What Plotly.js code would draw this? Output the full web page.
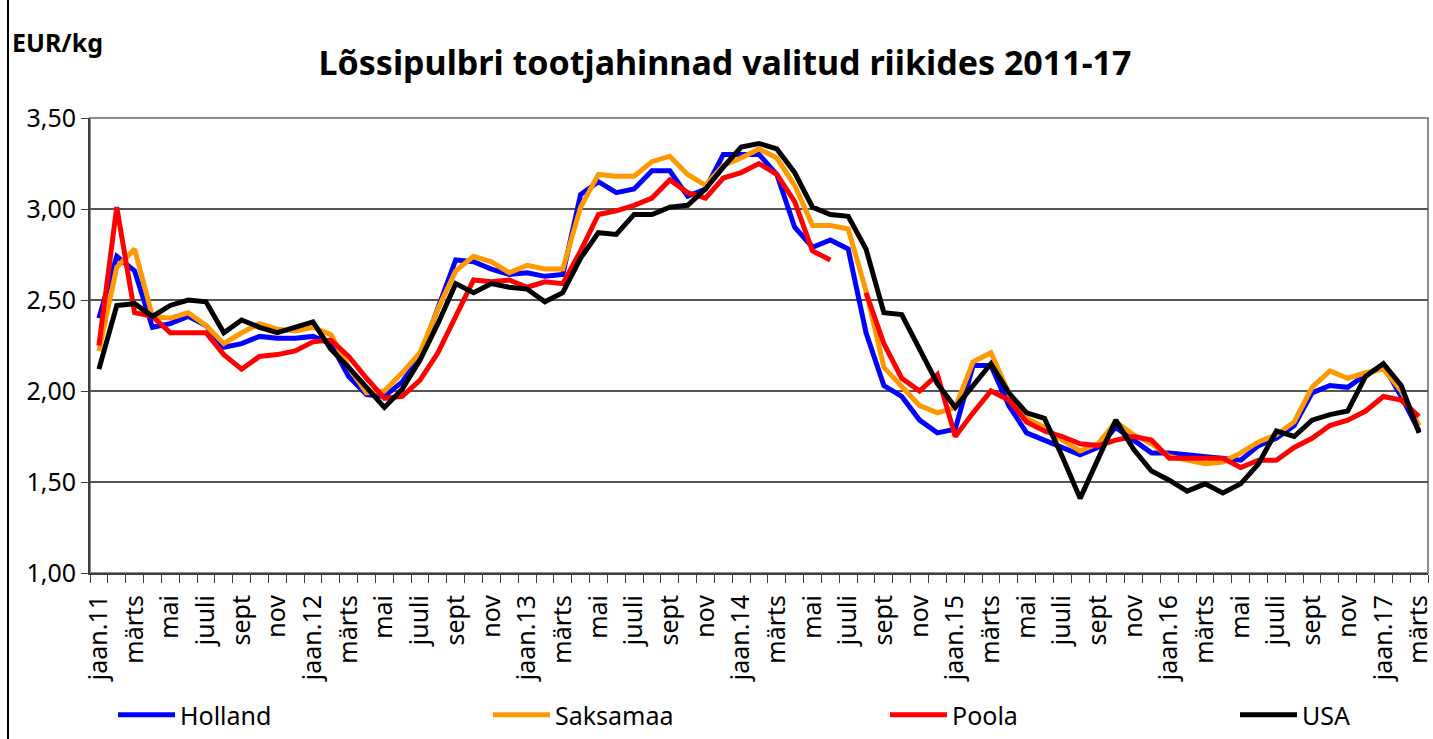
<!DOCTYPE html>
<html>
<head>
<meta charset="utf-8">
<script src="https://cdn.plot.ly/plotly-3.0.1.min.js"></script>
<style>
html,body{margin:0;padding:0;background:#fff;}
#chart{width:1433px;height:739px;}
</style>
</head>
<body>
<div id="chart"></div>
<script>
const categories = [
"jaan.11","veebr.11","märts.11","apr.11","mai.11","juuni.11","juuli.11","aug.11","sept.11","okt.11","nov.11","dets.11",
"jaan.12","veebr.12","märts.12","apr.12","mai.12","juuni.12","juuli.12","aug.12","sept.12","okt.12","nov.12","dets.12",
"jaan.13","veebr.13","märts.13","apr.13","mai.13","juuni.13","juuli.13","aug.13","sept.13","okt.13","nov.13","dets.13",
"jaan.14","veebr.14","märts.14","apr.14","mai.14","juuni.14","juuli.14","aug.14","sept.14","okt.14","nov.14","dets.14",
"jaan.15","veebr.15","märts.15","apr.15","mai.15","juuni.15","juuli.15","aug.15","sept.15","okt.15","nov.15","dets.15",
"jaan.16","veebr.16","märts.16","apr.16","mai.16","juuni.16","juuli.16","aug.16","sept.16","okt.16","nov.16","dets.16",
"jaan.17","veebr.17","märts.17"];

const tickLabels = [
"jaan.11","","märts","","mai","","juuli","","sept","","nov","",
"jaan.12","","märts","","mai","","juuli","","sept","","nov","",
"jaan.13","","märts","","mai","","juuli","","sept","","nov","",
"jaan.14","","märts","","mai","","juuli","","sept","","nov","",
"jaan.15","","märts","","mai","","juuli","","sept","","nov","",
"jaan.16","","märts","","mai","","juuli","","sept","","nov","",
"jaan.17","","märts"];

const holland = [
2.40,2.74,2.66,2.35,2.37,2.41,2.36,2.24,2.26,2.30,2.29,2.29,
2.30,2.26,2.08,1.98,1.97,2.05,2.19,2.45,2.72,2.71,2.67,2.64,
2.65,2.63,2.64,3.08,3.15,3.09,3.11,3.21,3.21,3.07,3.11,3.30,
3.30,3.30,3.19,2.90,2.79,2.83,2.78,2.32,2.03,1.97,1.84,1.77,
1.79,2.14,2.14,1.92,1.77,1.73,1.69,1.65,1.69,1.80,1.73,1.66,
1.66,1.65,1.64,1.63,1.62,1.70,1.74,1.81,1.99,2.03,2.02,2.09,
2.14,1.97,1.78];

const saksamaa = [
2.22,2.68,2.78,2.41,2.40,2.43,2.36,2.26,2.32,2.37,2.34,2.33,
2.35,2.31,2.13,1.99,2.00,2.10,2.21,2.45,2.66,2.74,2.71,2.65,
2.69,2.67,2.67,3.01,3.19,3.18,3.18,3.26,3.29,3.19,3.13,3.24,
3.28,3.33,3.28,3.13,2.91,2.91,2.89,2.55,2.13,2.02,1.92,1.88,
1.91,2.16,2.21,1.99,1.85,1.80,1.73,1.67,1.71,1.83,1.76,1.71,
1.64,1.62,1.60,1.61,1.66,1.72,1.76,1.83,2.02,2.11,2.07,2.10,
2.12,2.00,1.81];

const poola = [
2.25,3.01,2.43,2.41,2.32,2.32,2.32,2.20,2.12,2.19,2.20,2.22,
2.27,2.28,2.19,2.07,1.96,1.97,2.06,2.21,2.41,2.61,2.60,2.61,
2.57,2.60,2.59,2.77,2.97,2.99,3.02,3.06,3.16,3.09,3.06,3.17,
3.20,3.25,3.19,3.04,2.77,2.72,null,2.54,2.26,2.07,2.00,2.09,
1.75,1.88,2.00,1.95,1.83,1.78,1.75,1.71,1.70,1.73,1.75,1.73,
1.63,1.63,1.63,1.63,1.58,1.62,1.62,1.69,1.74,1.81,1.84,1.89,
1.97,1.95,1.86];

const usa = [
2.12,2.47,2.48,2.41,2.47,2.50,2.49,2.32,2.39,2.35,2.32,2.35,
2.38,2.23,2.13,2.02,1.91,2.01,2.17,2.37,2.59,2.54,2.59,2.57,
2.56,2.49,2.54,2.73,2.87,2.86,2.97,2.97,3.01,3.02,3.11,3.23,
3.34,3.36,3.33,3.20,3.01,2.97,2.96,2.78,2.43,2.42,2.23,2.04,
1.91,2.03,2.15,1.99,1.88,1.85,1.64,1.41,1.62,1.84,1.68,1.56,
1.51,1.45,1.49,1.44,1.49,1.60,1.78,1.75,1.84,1.87,1.89,2.08,
2.15,2.03,1.77];

const seriesNames = ["Holland","Saksamaa","Poola","USA"];
const seriesColors = ["#0000FF","#FF9900","#FF0000","#000000"];
const seriesValues = [holland, saksamaa, poola, usa];
const legendIds = ["legend","legend2","legend3","legend4"];

const traces = seriesNames.map((n, k) => ({
  type: "scatter",
  mode: "lines",
  name: n,
  x: categories,
  y: seriesValues[k],
  connectgaps: false,
  legend: legendIds[k],
  line: {color: seriesColors[k], width: 5},
  hoverinfo: "x+y+name"
}));

const W = 1433, H = 739;
const L = 90, R = 1428, T = 118, B = 573;
const pw = R - L, ph = B - T;
const px = v => (v - L) / pw;
const py = v => (B - v) / ph;

const FONT = "Noto Sans, DejaVu Sans, sans-serif";
const legendStarts = [113, 488, 885, 1235];
function legendAt(xStart) {
  return {
    orientation: "h",
    x: px(xStart), xanchor: "left",
    y: py(715), yanchor: "middle",
    font: {size: 25, color: "#000", family: FONT},
    itemwidth: 57,
    bgcolor: "rgba(0,0,0,0)",
    borderwidth: 0
  };
}

const layout = {
  width: W, height: H,
  margin: {l: L, r: W - R, t: T, b: H - B, pad: 0, autoexpand: false},
  paper_bgcolor: "#ffffff",
  plot_bgcolor: "#ffffff",
  separators: ",.",
  font: {family: FONT, color: "#000"},
  title: {
    text: "Lõssipulbri tootjahinnad valitud riikides 2011-17",
    font: {family: FONT, size: 34, weight: "bold", color: "#000"},
    x: 725 / W, xref: "container", xanchor: "center",
    y: 1 - 63 / H, yref: "container", yanchor: "middle"
  },
  xaxis: {
    type: "category",
    range: [-0.5, categories.length - 0.5],
    tickmode: "array",
    tickvals: categories,
    ticktext: tickLabels,
    tickangle: -90,
    ticks: "outside",
    tickson: "boundaries",
    ticklen: 8,
    tickwidth: 1,
    tickcolor: "#404040",
    ticklabelstandoff: 10,
    showline: true,
    linecolor: "#404040",
    linewidth: 2,
    showgrid: false,
    zeroline: false,
    automargin: false,
    tickfont: {size: 25, color: "#000", family: FONT},
    fixedrange: true
  },
  yaxis: {
    range: [1, 3.5],
    tickmode: "linear",
    tick0: 1,
    dtick: 0.5,
    tickformat: ".2f",
    ticks: "outside",
    ticklen: 7,
    tickwidth: 1,
    tickcolor: "#404040",
    showline: true,
    linecolor: "#404040",
    linewidth: 2,
    showgrid: true,
    gridcolor: "#555555",
    gridwidth: 1.5,
    zeroline: false,
    automargin: false,
    tickfont: {size: 25, color: "#000", family: FONT},
    fixedrange: true
  },
  showlegend: true,
  legend: legendAt(legendStarts[0]),
  legend2: legendAt(legendStarts[1]),
  legend3: legendAt(legendStarts[2]),
  legend4: legendAt(legendStarts[3]),
  shapes: [
    {type: "rect", xref: "paper", yref: "paper", x0: 0, x1: 1, y0: 0, y1: 1,
     line: {color: "#8c8c8c", width: 2}, layer: "below"},
    {type: "line", xref: "paper", yref: "paper", x0: px(8), x1: px(8), y0: py(0), y1: py(H),
     line: {color: "#000", width: 2}}
  ],
  annotations: [
    {text: "<b>EUR/kg</b>", xref: "paper", yref: "paper", x: px(10), y: py(42),
     xanchor: "left", yanchor: "middle", showarrow: false,
     font: {size: 25, color: "#000", family: FONT}}
  ]
};

Plotly.newPlot("chart", traces, layout, {displayModeBar: false, staticPlot: true});
</script>
</body>
</html>
